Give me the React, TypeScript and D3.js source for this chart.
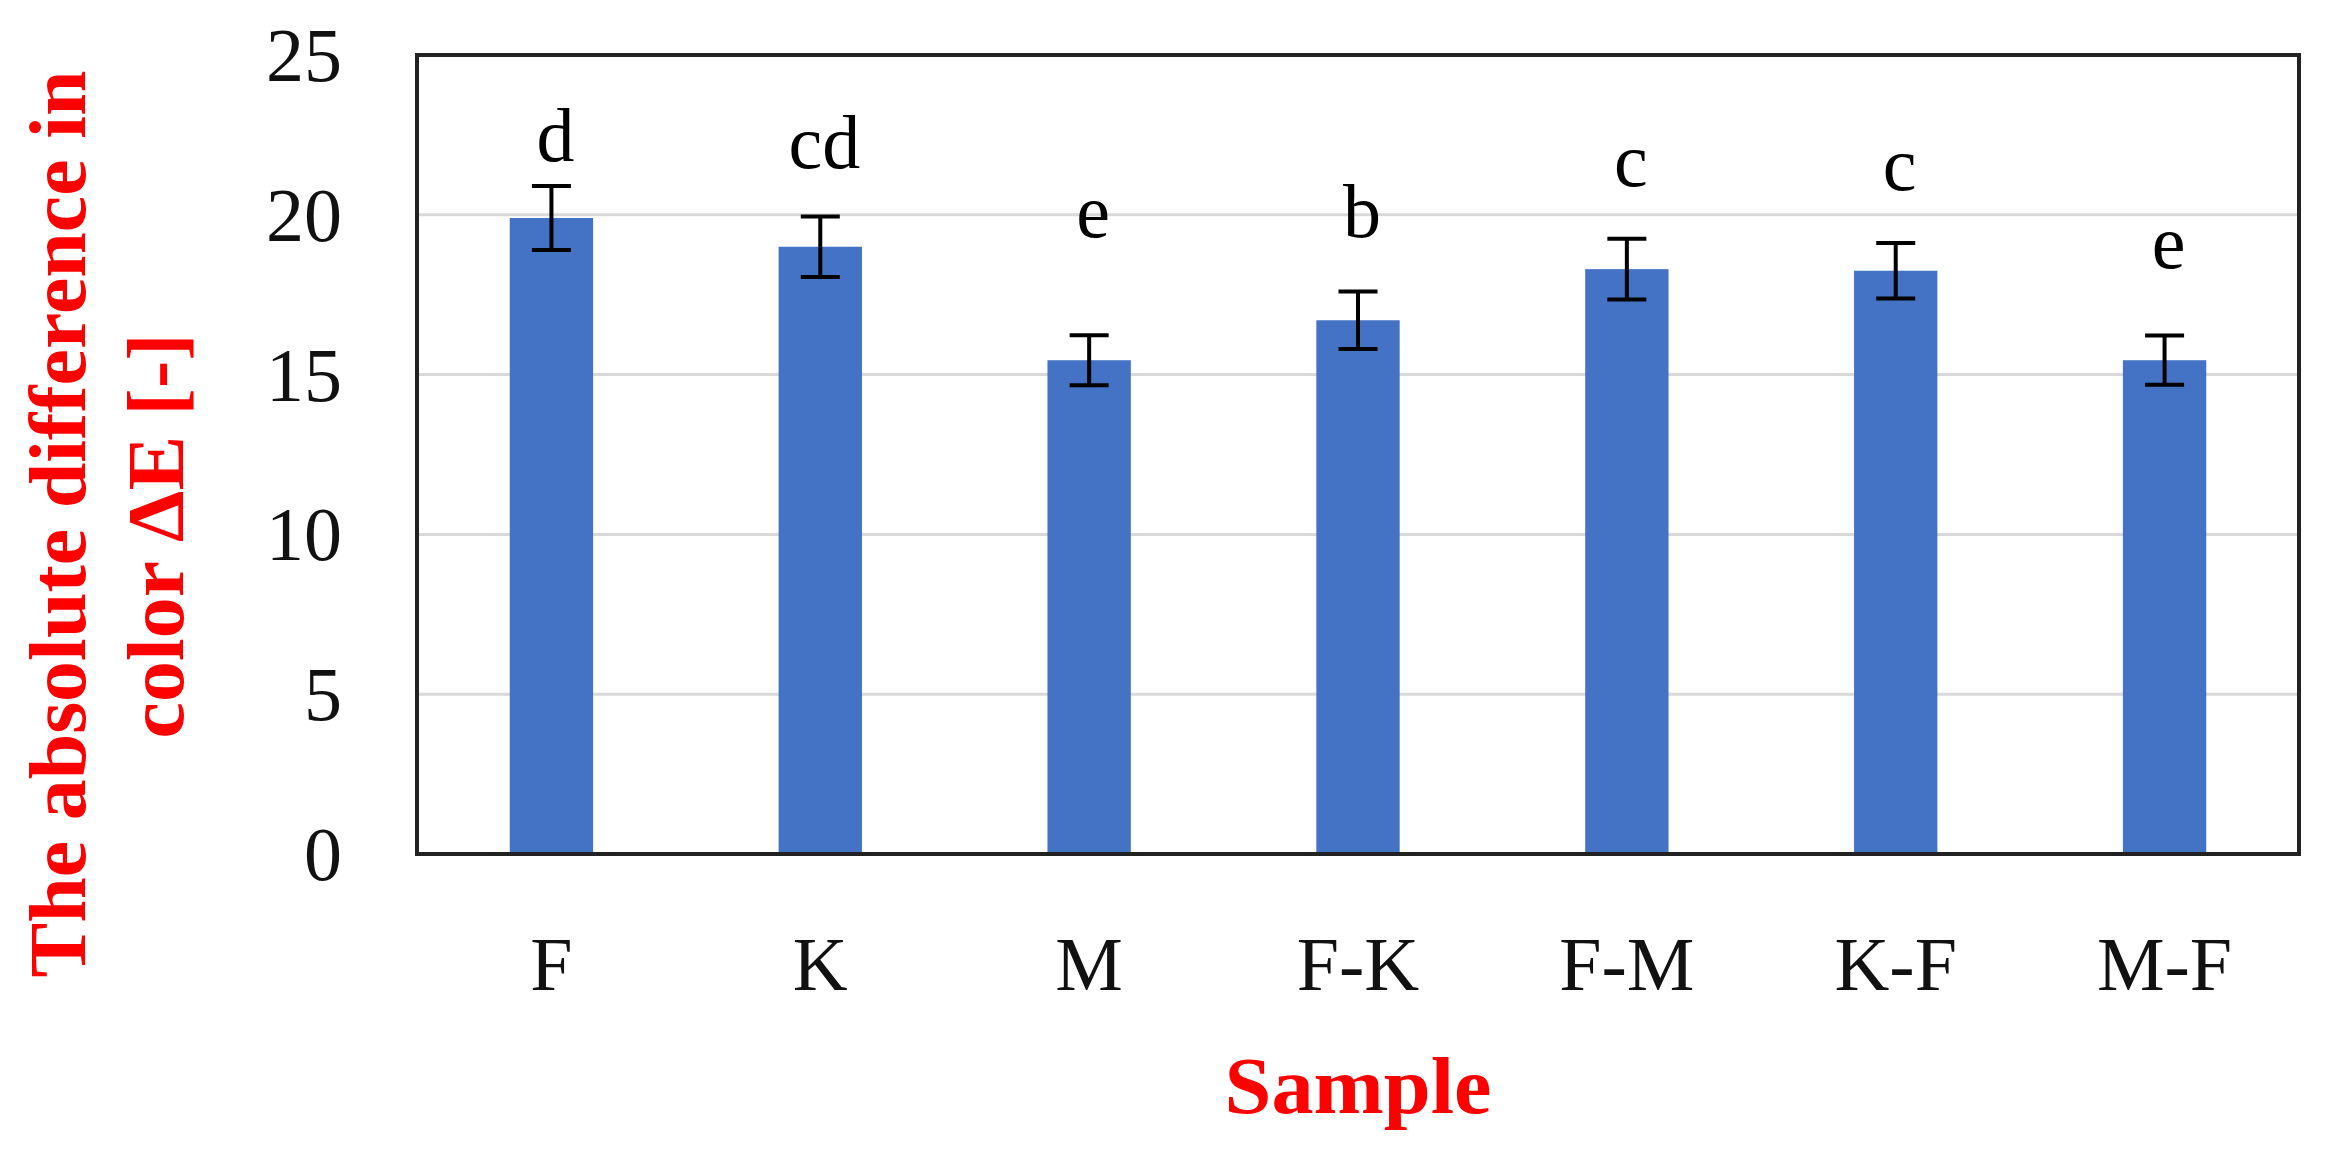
import React from "react";
import * as d3 from "d3";

const categories = ["F", "K", "M", "F-K", "F-M", "K-F", "M-F"];
const values = [19.9, 19.0, 15.45, 16.7, 18.3, 18.25, 15.45];
const errors = [1.0, 0.95, 0.78, 0.9, 0.95, 0.87, 0.77];
const letters = ["d", "cd", "e", "b", "c", "c", "e"];
const letterLevels = [21.68, 21.46, 19.31, 19.31, 20.9, 20.77, 18.34];
const yTicks = [0, 5, 10, 15, 20, 25];

const W = 2335;
const H = 1157;
const plot = { left: 417, right: 2299, top: 55, bottom: 854 };
const serif = "'Liberation Serif', 'Times New Roman', serif";

export default function App() {
  const x = d3
    .scaleBand<string>()
    .domain(categories)
    .range([plot.left, plot.right])
    .paddingInner(0.69)
    .paddingOuter(0.345);
  const y = d3.scaleLinear().domain([0, 25]).range([plot.bottom, plot.top]);
  const bw = x.bandwidth();
  const cap = 39;

  return (
    <svg
      width={W}
      height={H}
      style={{ position: "absolute", left: 0, top: 0, background: "#fff" }}
    >
      {/* gridlines */}
      {yTicks
        .filter((t) => t > 0 && t < 25)
        .map((t) => (
          <line
            key={"g" + t}
            x1={plot.left}
            x2={plot.right}
            y1={y(t)}
            y2={y(t)}
            stroke="#d9d9d9"
            strokeWidth={3}
          />
        ))}
      {/* bars */}
      {categories.map((c, i) => (
        <rect
          key={"b" + c}
          x={x(c)!}
          y={y(values[i])}
          width={bw}
          height={y(0) - y(values[i])}
          fill="#4472C4"
        />
      ))}
      {/* error bars */}
      {categories.map((c, i) => {
        const cx = x(c)! + bw / 2;
        const hi = y(values[i] + errors[i]);
        const lo = y(values[i] - errors[i]);
        return (
          <g key={"e" + c} stroke="#000" strokeWidth={4}>
            <line x1={cx} x2={cx} y1={hi} y2={lo} />
            <line x1={cx - cap / 2} x2={cx + cap / 2} y1={hi} y2={hi} />
            <line x1={cx - cap / 2} x2={cx + cap / 2} y1={lo} y2={lo} />
          </g>
        );
      })}
      {/* significance letters */}
      {categories.map((c, i) => (
        <text
          key={"l" + c}
          x={x(c)! + bw / 2 + 4}
          y={y(letterLevels[i])}
          textAnchor="middle"
          fontFamily={serif}
          fontSize={76}
          fill="#000"
        >
          {letters[i]}
        </text>
      ))}
      {/* plot border */}
      <rect
        x={plot.left}
        y={plot.top}
        width={plot.right - plot.left}
        height={plot.bottom - plot.top}
        fill="none"
        stroke="#222"
        strokeWidth={4}
      />
      {/* y tick labels */}
      {yTicks.map((t) => (
        <text
          key={"t" + t}
          x={342}
          y={y(t) + 26}
          textAnchor="end"
          fontFamily={serif}
          fontSize={76}
          fill="#111"
        >
          {t}
        </text>
      ))}
      {/* x category labels */}
      {categories.map((c) => (
        <text
          key={"c" + c}
          x={x(c)! + bw / 2}
          y={990}
          textAnchor="middle"
          fontFamily={serif}
          fontSize={76}
          fill="#111"
        >
          {c}
        </text>
      ))}
      {/* x axis title */}
      <text
        x={(plot.left + plot.right) / 2}
        y={1113}
        textAnchor="middle"
        fontFamily={serif}
        fontWeight="bold"
        fontSize={80}
        fill="#ff0000"
        textLength={267}
        lengthAdjust="spacingAndGlyphs"
      >
        Sample
      </text>
      {/* y axis title */}
      <g transform="translate(85,524) rotate(-90)">
        <text
          x={0}
          y={0}
          textAnchor="middle"
          fontFamily={serif}
          fontWeight="bold"
          fontSize={80}
          fill="#ff0000"
          textLength={907}
          lengthAdjust="spacingAndGlyphs"
        >
          The absolute difference in
        </text>
      </g>
      <g transform="translate(183,536) rotate(-90)">
        <text
          x={0}
          y={0}
          textAnchor="middle"
          fontFamily={serif}
          fontWeight="bold"
          fontSize={80}
          fill="#ff0000"
          textLength={405}
          lengthAdjust="spacingAndGlyphs"
        >
          color ΔE [-]
        </text>
      </g>
    </svg>
  );
}
